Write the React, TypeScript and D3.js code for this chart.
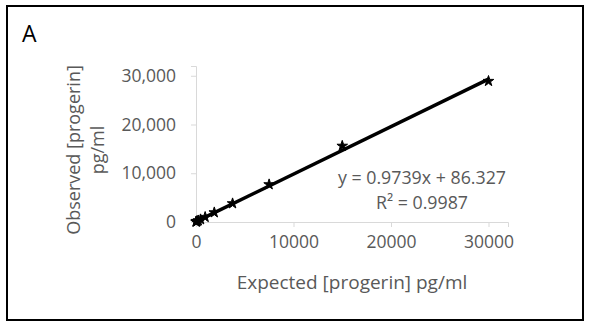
import React, { useEffect, useRef } from 'react';
import * as d3 from 'd3';

// dilution series (expected) and measured concentration (observed), pg/ml
const expected = [0, 29, 59, 117, 234, 469, 938, 1875, 3750, 7500, 15000, 30000];
const observed = [40, 70, 110, 180, 300, 520, 1000, 1950, 3800, 7700, 15600, 28900];
const xTicks = [0, 10000, 20000, 30000];
const yTicks = [0, 10000, 20000, 30000];
const slope = 0.9739;
const intercept = 86.327;
const rSquared = 0.9987;

const W = 589;
const H = 323;
const FONT = '"Open Sans", sans-serif';

const App = () => {
  const svgRef = useRef<SVGSVGElement>(null);

  useEffect(() => {
    const svg = d3.select(svgRef.current);
    svg.selectAll('*').remove();

    // outer frame
    svg.append('rect')
      .attr('x', 7).attr('y', 6).attr('width', 576).attr('height', 314)
      .attr('fill', '#fff').attr('stroke', '#000').attr('stroke-width', 2);

    svg.append('text')
      .attr('x', 22).attr('y', 42)
      .attr('font-family', FONT).attr('font-size', 23)
      .attr('fill', '#000')
      .text('A');

    const x = d3.scaleLinear().domain([0, 32000]).range([196, 508]);
    const y = d3.scaleLinear().domain([0, 32000]).range([222, 66]);

    const axisColor = '#d9d9d9';
    const textColor = '#595959';

    // x axis
    const gx = svg.append('g').attr('transform', `translate(0,${y(0)})`);
    gx.call(d3.axisBottom(x).tickValues(xTicks).tickFormat(d3.format('d')).tickSize(5).tickPadding(9));
    gx.select('.domain').attr('stroke', axisColor);
    gx.selectAll('.tick line').attr('stroke', axisColor);
    gx.selectAll('.tick text')
      .attr('fill', textColor).attr('font-family', FONT).attr('font-size', 17.5);

    // y axis
    const gy = svg.append('g').attr('transform', `translate(${x(0)},0)`);
    gy.call(d3.axisLeft(y).tickValues(yTicks).tickFormat(d3.format(',')).tickSize(5).tickPadding(15));
    gy.select('.domain').attr('stroke', axisColor);
    gy.selectAll('.tick line').attr('stroke', axisColor);
    gy.selectAll('.tick text')
      .attr('fill', textColor).attr('font-family', FONT).attr('font-size', 17.5);

    // trendline
    const trend = [0, 30000].map((v) => [v, slope * v + intercept]);
    svg.append('path')
      .datum(trend)
      .attr('d', d3.line().x((d) => x(d[0])).y((d) => y(d[1])))
      .attr('fill', 'none').attr('stroke', '#000').attr('stroke-width', 3.5);

    // points
    svg.append('g')
      .selectAll('path')
      .data(expected.map((e, i) => [e, observed[i]]))
      .enter()
      .append('path')
      .attr('transform', (d) => `translate(${x(d[0])},${y(d[1])})`)
      .attr('d', d3.symbol().type(d3.symbolStar).size(35)())
      .attr('fill', '#000').attr('stroke', '#000').attr('stroke-width', 1);

    // equation
    svg.append('text')
      .attr('x', 422).attr('y', 184)
      .attr('text-anchor', 'middle')
      .attr('font-family', FONT).attr('font-size', 17.8).attr('fill', textColor)
      .text(`y = ${slope}x + ${intercept}`);
    svg.append('text')
      .attr('x', 422).attr('y', 209)
      .attr('text-anchor', 'middle')
      .attr('font-family', FONT).attr('font-size', 17.8).attr('fill', textColor)
      .text(`R² = ${rSquared}`);

    // axis titles
    svg.append('text')
      .attr('x', 352).attr('y', 289)
      .attr('text-anchor', 'middle')
      .attr('font-family', FONT).attr('font-size', 19).attr('fill', textColor)
      .text('Expected [progerin] pg/ml');

    const yt = svg.append('text')
      .attr('transform', 'translate(80,150) rotate(-90)')
      .attr('text-anchor', 'middle')
      .attr('font-family', FONT).attr('font-size', 18).attr('fill', textColor);
    yt.append('tspan').attr('x', 0).attr('y', 0).text('Observed [progerin]');
    yt.append('tspan').attr('x', 0).attr('y', 24).text('pg/ml');
  }, []);

  return <svg ref={svgRef} width={W} height={H} style={{ position: 'absolute', left: 0, top: 0 }} />;
};

export default App;
